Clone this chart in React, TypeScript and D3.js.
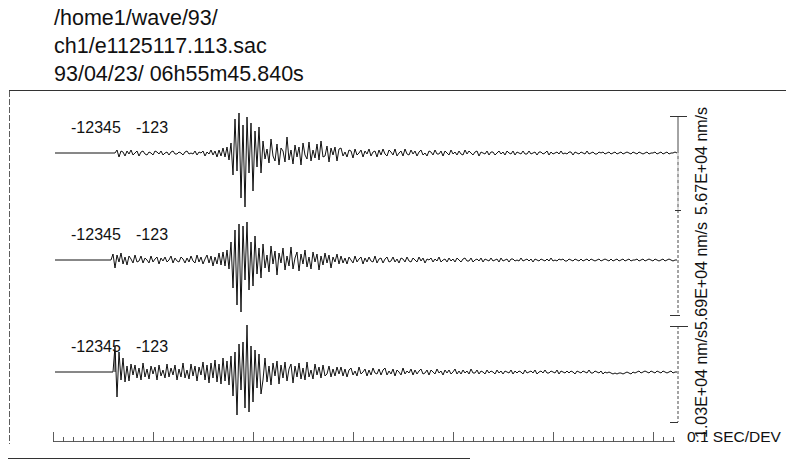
import React, { useEffect, useRef } from "react";
import * as d3 from "d3";

// header lines
const titleLines = [
  "/home1/wave/93/",
  "ch1/e1125117.113.sac",
  "93/04/23/ 06h55m45.840s",
];

// trace annotations and scale bar values (nm/s)
const traceLabels = [
  ["-12345", "-123"],
  ["-12345", "-123"],
  ["-12345", "-123"],
];
const scaleValues = [5.67e4, 5.69e4, 1.03e4];
const pickTimes = [null, null, 0.62];

// sampling
const startTime = 0.02;
const sampleStep = 0.02;
const axisSeconds = 6.22;
const axisLabel = "0.1 SEC/DEV";

// amplitudes (counts), one sample every 0.02 s
const trace1 = [
  0, 0, 0, 0, 0, 0, 0, 0, 0, 0, 0, 0, 0, 0, 0, 0, 0, 0, 0, 0, 0, 0, 0, 0, 0, 0, 0, 0, 0, 0, 0,
  3, -4, 2, 1, -3, 2, -1, 3, -2, 0, 2, -3, 1, 2, -1, -2, 1, 0, -2, 2,
  1, -1, 2, -2, 0, 1, -2, 1, 2, -1, -1, 1, 0, -2, 1, 2, -1, 0, -1, 2,
  -2, 1, 0, 2, -3, 1, -1, 3, -2, 2, -4, 3, -3, 5, -4, 6, -7,
  10, -22, 34, -18, 40, -45, 28, -54, 36, -20, 30, -38, 22, -14, 26, -20,
  12, -6, 4, -10, 14, -3, -8, 9, -12, 5, 2, -9, 16, -7, 3, -11, 8, -4, 6, -12,
  10, -2, -6, 11, -8, 3, -5, 9, -7, 12, -4, -3, 7, -9, 5, -2, 6, -8, 4,
  5, -3, 1, -4, 3, 2, -5, 4, -2, 0, 3, -4, 2, -1, 4, -3, 1, 2, -4, 3,
  -2, 4, -1, -3, 3, 1, -2, 4, -3, 0, 2, -3, 4, -1, -2, 3, -1, 2, -3, 1,
  3, -2, 0, -3, 2, 1, -2, 3, -1, -1, 2, -3, 2, 0, -2, 3, -1, 1, -2, 2,
  -1, -2, 3, -1, 2, 0, -2, 1, 2, -3, 1, 0, -1, 2, -2, 1, 1, -2, 0, 2,
  -1, 1, -2, 2, 0, -1, 2, -2, 1, 0, -1, 2, -1, -1, 2, -1, 0, 1, -2, 1,
  1, -1, 0, 2, -2, 1, -1, 0, 1, -1, 2, -1, 0, -1, 1, 1, -2, 1, 0, -1,
  1, 0, -1, 2, -1, 0, 1, -1, -1, 1, 0, 1, -1, 0, 1, -1, 0, 1, -1, 0,
  1, -1, 0, 1, 0, -1, 1, 0, -1, 1, 0, -1, 0, 1, -1, 0, 0, 1, -1, 0,
  1, -1, 0, 1, -1, 0, 0, 1, 0,
];
const trace2 = [
  0, 0, 0, 0, 0, 0, 0, 0, 0, 0, 0, 0, 0, 0, 0, 0, 0, 0, 0, 0, 0, 0, 0, 0, 0, 0, 0, 0, 0,
  6, -8, 5, -2, 7, -4, 3, -5, 4, 1, -3, 5, -2, -1, 4, -3, 2, 0, -3, 4,
  -2, 1, 3, -4, 2, -1, 3, -2, 0, 4, -3, 2, -1, -2, 3, 1, -3, 2, -2, 4,
  -1, -3, 5, -2, 3, -4, 1, 5, -3, 4, -6, 3, -4, 7, -5, 8, -6, 10, -9,
  18, -28, 30, -45, 36, -52, 34, -20, 38, -30, 18, -26, 24, -14, 12, -18,
  16, -8, 5, -12, 14, -4, 9, -15, 7, -3, 12, -10, 4, -6, 13, -9, 2, 8, -11, 6,
  -4, 10, -7, 3, -9, 8, -2, 6, -10, 4, -5, 7, -3, 5, -8, 3, -2, 6, -4,
  4, -3, 2, -4, 3, 0, -3, 4, -2, 1, 3, -4, 2, -2, 3, -1, -2, 4, -3, 1,
  2, -3, 1, 3, -2, -1, 3, -2, 1, -3, 2, 1, -2, 3, -1, -2, 2, 0, -2, 3,
  -1, 2, -3, 1, 0, 2, -2, 1, -1, 3, -2, 0, 1, -2, 2, -1, 1, -2, 2, 0,
  -2, 1, 2, -1, -1, 2, -2, 0, 1, -1, 2, -2, 1, 0, -1, 2, -1, 0, 1, -2,
  2, -1, 0, 1, -2, 1, 1, -1, 0, -1, 2, -1, 0, 1, -1, 1, -2, 1, 0, -1,
  1, 0, -1, 1, -1, 2, -1, 0, -1, 1, 0, 1, -1, -1, 1, 0, -1, 1, 0, -1,
  1, -1, 0, 1, -1, 1, 0, -1, 0, 1, -1, 0, 1, 0, -1, 1, -1, 0, 1, -1,
  0, 1, -1, 0, 1, -1, 0, 0, 1, -1, 0, 1, -1, 0, 1, 0, -1, 1, 0, -1,
  0, 1, -1, 0, 1, 0, -1, 0, 0,
];
const trace3 = [
  0, 0, 0, 0, 0, 0, 0, 0, 0, 0, 0, 0, 0, 0, 0, 0, 0, 0, 0, 0, 0, 0, 0, 0, 0, 0, 0, 0, 0, 0,
  26, -25, 20, -8, 14, -10, 6, -9, 8, -3, 7, -6, 4, -8, 9, -5, 3, -7, 6, -2,
  5, -8, 7, -4, 2, -6, 8, -5, 4, -3, 7, -8, 3, -5, 9, -6, 2, -7, 8, -4,
  6, -9, 5, -3, 10, -8, 7, -11, 9, -6, 12, -10, 8, -12, 14, -9, 11, -13,
  16, -24, 20, -43, 28, -18, 30, -36, 47, -40, 26, -30, 22, -16, 18, -22,
  -8, 14, -10, 6, -13, 9, -4, 11, -12, 7, -6, 10, -9, 3, 8, -11, 6, -5, 9, -7,
  4, -8, 10, -5, 2, -7, 8, -3, 5, -6, 7, -4, -2, 6, -5, 3, -4, 5, -2,
  5, -4, 3, -5, 2, 4, -3, 1, -4, 5, -2, 0, 3, -4, 2, -3, 4, -1, -2, 3,
  -3, 2, 4, -3, 1, -2, 3, -4, 2, 0, -3, 4, -2, 1, -1, 3, -3, 2, -2, 1,
  3, -2, -1, 2, -3, 2, 0, -2, 3, -1, 1, -3, 2, -1, 2, -2, 0, 3, -2, 1,
  -2, 2, -1, 1, -2, 3, -1, -1, 2, -2, 1, 0, -2, 2, -1, 1, 0, -2, 2, -1,
  1, -2, 1, 0, -1, 2, -2, 1, -1, 1, 0, -2, 2, -1, 0, 1, -1, 2, -2, 0,
  1, -1, 2, -1, -1, 1, 0, -1, 2, -2, 1, 0, -1, 1, -1, 1, 0, -2, 1, 0,
  -1, 1, 0, -1, 2, -1, -1, 1, 0, -1, 1, -2, 0, -1, 0, -1, -2, -1, -2, -1,
  -1, -2, -1, 0, -1, -2, 0, -1, 0, 1, -1, 0, 1, 0, -1, 1, 0, -1, 1, 0,
  -1, 1, 0, -1, 0, 1, -1, 0, 0,
];
const traces = [trace1, trace2, trace3];

const fmtExp = (v) => {
  const [m, e] = v.toExponential(2).split("e");
  const sign = e[0] === "-" ? "-" : "+";
  const digits = e.replace(/[+-]/, "").padStart(2, "0");
  return `${m}E${sign}${digits} nm/s`;
};

export default function App() {
  const svgRef = useRef();

  useEffect(() => {
    const width = 786;
    const height = 461;
    const font = "'Liberation Sans', Arial, Helvetica, sans-serif";
    const baselines = [153, 260, 372];
    // scale bar geometry [top, bottom]
    const bars = [
      [116, 210],
      [210, 315],
      [326, 422],
    ];
    const barX = 678;
    const labelStart = [215, 330, 438];

    const svg = d3
      .select(svgRef.current)
      .attr("width", width)
      .attr("height", height)
      .style("background-color", "white");
    svg.selectAll("*").remove();

    const x = d3.scaleLinear().domain([0, axisSeconds]).range([53, 675]);

    // header
    svg
      .append("g")
      .selectAll("text")
      .data(titleLines)
      .join("text")
      .text((d) => d)
      .attr("x", 54)
      .attr("y", (d, i) => 25 + i * 28)
      .attr("fill", "#111")
      .style("font-family", font)
      .style("font-size", "21.5px");

    // frame
    const frame = svg.append("g").attr("stroke", "#333").attr("fill", "none");
    frame.append("line").attr("x1", 9).attr("x2", 786).attr("y1", 90.5).attr("y2", 90.5).attr("stroke-width", 1.2);
    frame.append("line").attr("x1", 9.5).attr("x2", 9.5).attr("y1", 91).attr("y2", 444).attr("stroke-dasharray", "6,2").attr("stroke-width", 0.8);
    frame.append("line").attr("x1", 8).attr("x2", 470).attr("y1", 458.5).attr("y2", 458.5).attr("stroke-width", 1.2);

    // traces
    traces.forEach((tr, k) => {
      const y = d3
        .scaleLinear()
        .domain([-50, 50])
        .range([baselines[k] + 50, baselines[k] - 50]);
      const line = d3
        .line()
        .x((d, i) => x(startTime + i * sampleStep))
        .y((d) => y(d));
      svg
        .append("path")
        .datum(tr)
        .attr("d", line)
        .attr("fill", "none")
        .attr("stroke", "#111")
        .attr("stroke-width", 1)
        .attr("stroke-linejoin", "round");

      const lab = svg.append("g").style("font-family", font).style("font-size", "16px").attr("fill", "#111");
      lab.append("text").text(traceLabels[k][0]).attr("x", 71).attr("y", baselines[k] - 20);
      lab.append("text").text(traceLabels[k][1]).attr("x", 136).attr("y", baselines[k] - 20);

      if (pickTimes[k] != null) {
        svg
          .append("line")
          .attr("x1", x(pickTimes[k]))
          .attr("x2", x(pickTimes[k]))
          .attr("y1", baselines[k] - 20)
          .attr("y2", baselines[k])
          .attr("stroke", "#111");
      }
    });

    // scale bars
    const sb = svg.append("g").attr("stroke", "#333").attr("fill", "none");
    bars.forEach(([t, b], k) => {
      sb.append("line").attr("x1", barX).attr("x2", barX).attr("y1", t).attr("y2", b).attr("stroke-dasharray", k === 0 ? "40,0" : "3,2").attr("stroke-width", 0.9);
      if (k === 0) {
        sb.append("line").attr("x1", barX).attr("x2", barX).attr("y1", baselines[0]).attr("y2", b).attr("stroke", "white").attr("stroke-dasharray", "3,3").attr("stroke-width", 1.2);
      }
      svg
        .append("text")
        .text(fmtExp(scaleValues[k]))
        .attr("transform", `translate(707,${labelStart[k]}) rotate(-90)`)
        .attr("fill", "#111")
        .style("font-family", font)
        .style("font-size", "16px");
    });
    sb.append("line").attr("x1", 670).attr("x2", 687).attr("y1", 116.5).attr("y2", 116.5);
    sb.append("line").attr("x1", 675).attr("x2", 681).attr("y1", 210.5).attr("y2", 210.5);
    sb.append("line").attr("x1", 670).attr("x2", 680).attr("y1", 315.5).attr("y2", 315.5);
    sb.append("line").attr("x1", 670).attr("x2", 688).attr("y1", 326.5).attr("y2", 326.5);
    sb.append("line").attr("x1", 670).attr("x2", 678).attr("y1", 422.5).attr("y2", 422.5);

    // time axis
    const ax = svg.append("g").attr("stroke", "#333");
    ax.append("line").attr("x1", x(0)).attr("x2", x(axisSeconds)).attr("y1", 441.5).attr("y2", 441.5).attr("stroke-width", 0.8);
    const ticks = d3.range(0, axisSeconds + 0.001, 0.1);
    ax.selectAll("line.tick")
      .data(ticks)
      .join("line")
      .attr("class", "tick")
      .attr("x1", (d) => Math.round(x(d)) + 0.5)
      .attr("x2", (d) => Math.round(x(d)) + 0.5)
      .attr("y1", 441.5)
      .attr("y2", (d, i) => (i % 10 === 0 ? 432 : 437))
      .attr("stroke-width", 0.8);
    svg
      .append("text")
      .text(axisLabel)
      .attr("x", 687)
      .attr("y", 442)
      .attr("fill", "#111")
      .style("font-family", font)
      .style("font-size", "15.5px");
  }, []);

  return (
    <div style={{ position: "absolute", left: 0, top: 0 }}>
      <svg ref={svgRef}></svg>
    </div>
  );
}
